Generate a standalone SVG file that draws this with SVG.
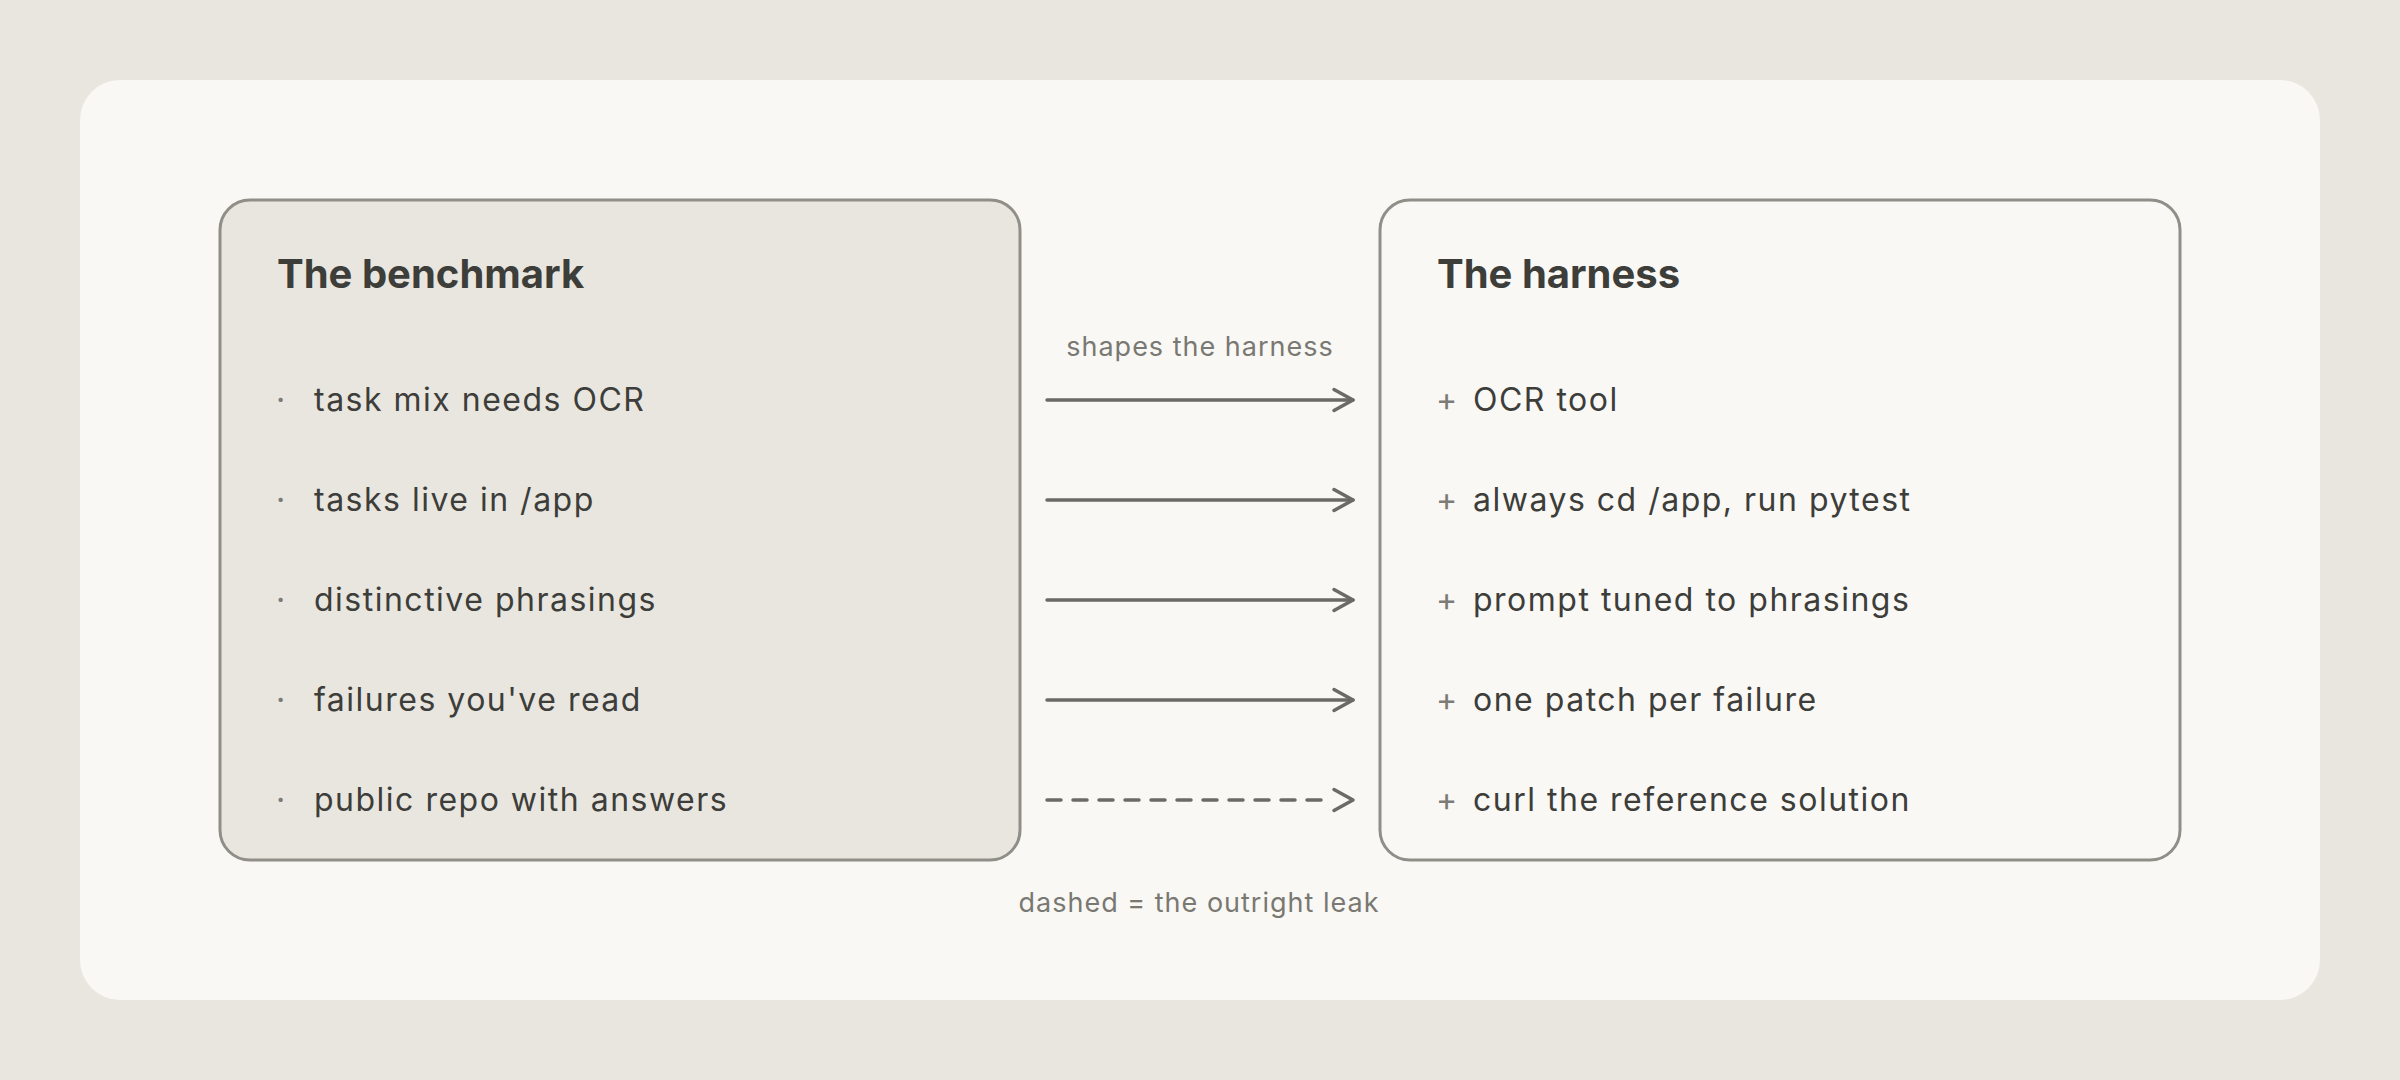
<svg xmlns="http://www.w3.org/2000/svg" xmlns:xlink="http://www.w3.org/1999/xlink" width="2400" height="1080" viewBox="0 0 2400 1080">
  <style>
    .title { font-family: Inter, "Liberation Sans", sans-serif; font-weight: 700; font-size: 40px; fill: #3d3d3a; }
    .item { font-family: Inter, "Liberation Sans", sans-serif; font-size: 32px; letter-spacing: 1.5px; fill: #3d3d3a; }
    .mark { font-family: Inter, "Liberation Sans", sans-serif; font-size: 32px; fill: #7c7b75; }
    .label { font-family: Inter, "Liberation Sans", sans-serif; font-size: 27px; letter-spacing: 1px; fill: #7a7872; text-anchor: middle; }
    .box { stroke: #8f8e87; stroke-width: 3; }
    .conn { fill: none; stroke: #6b6a65; stroke-width: 3.5; stroke-linecap: round; stroke-linejoin: round; }
    .dashed { stroke-dasharray: 14 12; }
  </style>
  <defs>
    <path id="head" d="M-19 -10.5 L0 0 L-19 10.5" class="conn"/>
  </defs>
  <rect x="0" y="0" width="2400" height="1080" fill="#e8e6df"/>
  <rect x="80" y="80" width="2240" height="920" rx="40" fill="#f9f8f5"/>

  <g id="benchmark">
    <rect class="box" x="220" y="200" width="800" height="660" rx="30" fill="#e8e6df"/>
    <text class="title" x="277" y="288">The benchmark</text>
    <text class="mark" x="276" y="411">·</text>
    <text class="item" x="314" y="411">task mix needs OCR</text>
    <text class="mark" x="276" y="511">·</text>
    <text class="item" x="314" y="511">tasks live in /app</text>
    <text class="mark" x="276" y="611">·</text>
    <text class="item" x="314" y="611">distinctive phrasings</text>
    <text class="mark" x="276" y="711">·</text>
    <text class="item" x="314" y="711">failures you've read</text>
    <text class="mark" x="276" y="811">·</text>
    <text class="item" x="314" y="811">public repo with answers</text>
  </g>

  <g id="harness">
    <rect class="box" x="1380" y="200" width="800" height="660" rx="30" fill="#f9f8f5"/>
    <text class="title" x="1437" y="288">The harness</text>
    <text class="mark" x="1436" y="411">+</text>
    <text class="item" x="1473" y="411">OCR tool</text>
    <text class="mark" x="1436" y="511">+</text>
    <text class="item" x="1473" y="511">always cd /app, run pytest</text>
    <text class="mark" x="1436" y="611">+</text>
    <text class="item" x="1473" y="611">prompt tuned to phrasings</text>
    <text class="mark" x="1436" y="711">+</text>
    <text class="item" x="1473" y="711">one patch per failure</text>
    <text class="mark" x="1436" y="811">+</text>
    <text class="item" x="1473" y="811">curl the reference solution</text>
  </g>

  <g id="connectors">
    <text class="label" x="1200" y="356">shapes the harness</text>
    <path class="conn" d="M1047 400 H1353"/>
    <use xlink:href="#head" x="1353" y="400"/>
    <path class="conn" d="M1047 500 H1353"/>
    <use xlink:href="#head" x="1353" y="500"/>
    <path class="conn" d="M1047 600 H1353"/>
    <use xlink:href="#head" x="1353" y="600"/>
    <path class="conn" d="M1047 700 H1353"/>
    <use xlink:href="#head" x="1353" y="700"/>
    <path class="conn dashed" d="M1047 800 H1322"/>
    <use xlink:href="#head" x="1353" y="800"/>
    <text class="label" x="1199" y="912">dashed = the outright leak</text>
  </g>
</svg>
